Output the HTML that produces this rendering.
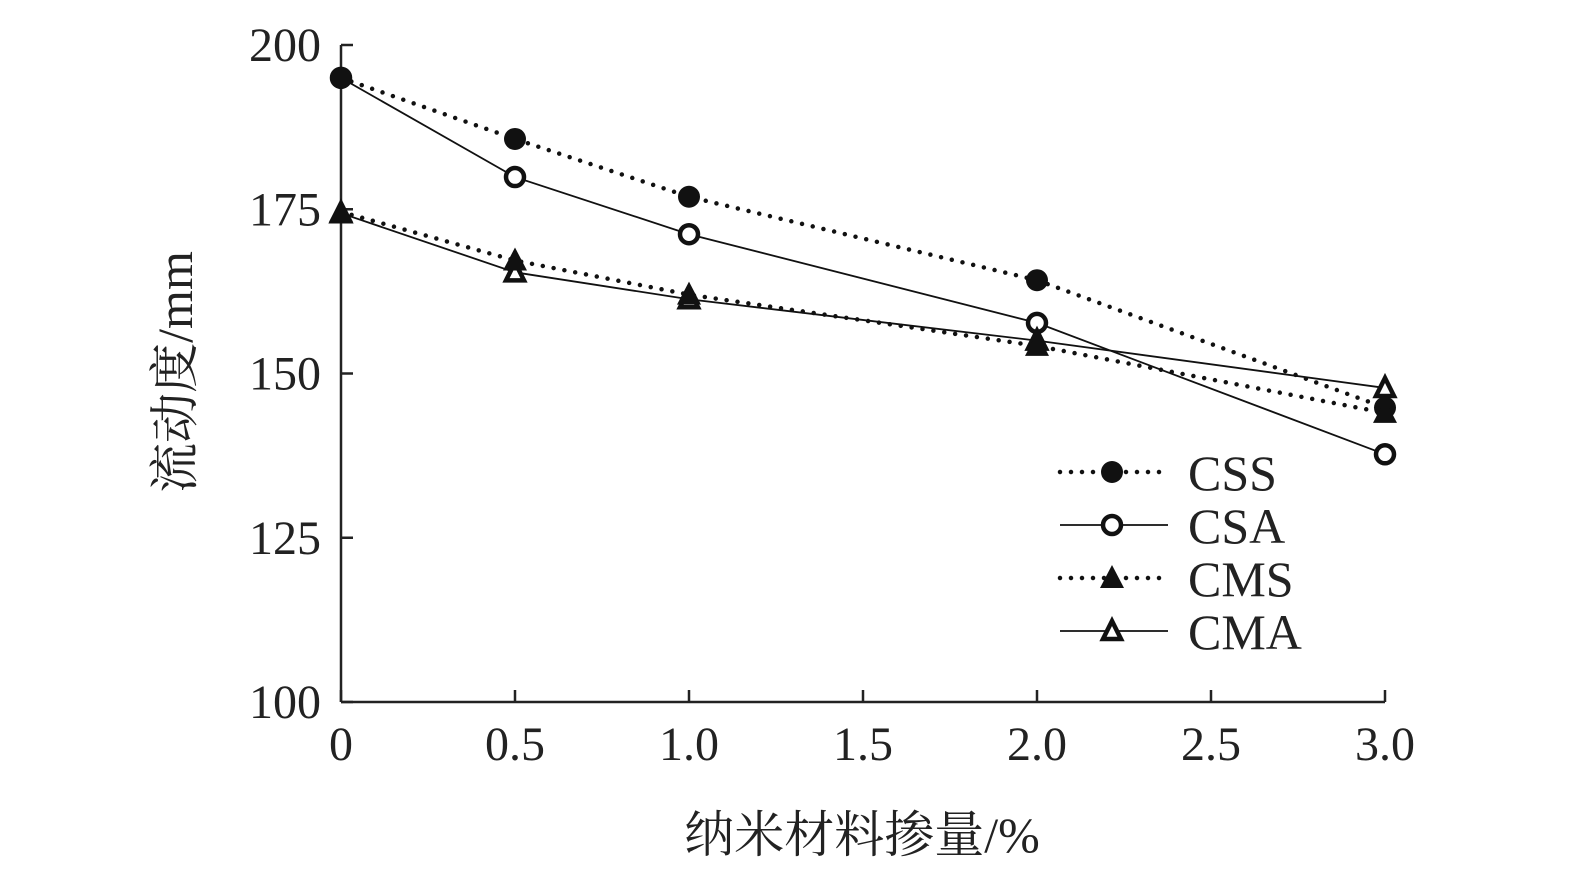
<!DOCTYPE html>
<html><head><meta charset="utf-8"><style>
body{margin:0;background:#fff;}
svg{display:block;font-family:"Liberation Serif","Noto Serif CJK SC",serif;}
</style></head><body>
<svg id="chart" width="1575" height="886" viewBox="0 0 1575 886" xmlns="http://www.w3.org/2000/svg">
<g id="axes"></g>
<g id="series"></g>
<g id="legend"></g>
<text transform="translate(192,372) rotate(-90)" text-anchor="middle" font-size="50" fill="#222" font-family="Liberation Serif, Noto Serif CJK SC, serif">流动度/mm</text>
<text x="862" y="852" text-anchor="middle" font-size="50" fill="#222" font-family="Liberation Serif, Noto Serif CJK SC, serif">纳米材料掺量/%</text>
</svg>
<script>
const xCats = [0, 0.5, 1.0, 2.0, 3.0];
const xTicks = [0, 0.5, 1.0, 1.5, 2.0, 2.5, 3.0];
const xTickLabels = ["0","0.5","1.0","1.5","2.0","2.5","3.0"];
const yTicks = [100, 125, 150, 175, 200];
const cssVals = [195, 185.7, 176.9, 164.2, 144.8];
const csaVals = [195, 179.9, 171.2, 157.7, 137.7];
const cmsVals = [174.6, 167.2, 162.0, 154.2, 144.0];
const cmaVals = [174.4, 165.4, 161.3, 155.0, 147.8];
const seriesNames = ["CSS","CSA","CMS","CMA"];

const NS="http://www.w3.org/2000/svg";
const X0=341,X1=1385,Y0=702,Y1=45;
const xs=v=>X0+(v-0)/3*(X1-X0);
const ys=v=>Y0-(v-100)/100*(Y0-Y1);
function mk(t,a,p){const e=document.createElementNS(NS,t);for(const k in a)e.setAttribute(k,a[k]);p.appendChild(e);return e;}
const axes=document.getElementById('axes');
let l=mk('line',{x1:X0,y1:Y1,x2:X0,y2:Y0,stroke:'#222','stroke-width':2.5},axes);


l=mk('line',{x1:X0,y1:Y0,x2:X1,y2:Y0,stroke:'#222','stroke-width':2.5},axes);


yTicks.forEach(v=>{
  const t=mk('line',{x1:X0,y1:ys(v),x2:X0+12,y2:ys(v),stroke:'#222','stroke-width':2.5},axes);
  
  
  const tx=mk('text',{x:X0-20,y:ys(v)+16,'text-anchor':'end','font-size':48,fill:'#222'},axes);
  tx.textContent=v;
  
  
});
xTicks.forEach((v,i)=>{
  const t=mk('line',{x1:xs(v),y1:Y0,x2:xs(v),y2:Y0-12,stroke:'#222','stroke-width':2.5},axes);
  
  
  const tx=mk('text',{x:xs(v),y:760,'text-anchor':'middle','font-size':48,fill:'#222'},axes);
  tx.textContent=xTickLabels[i];
  
  
});
function marker(type,x,y,p){
  let m;
  if(type==='fc') m=mk('circle',{cx:x,cy:y,r:11,fill:'#111'},p);
  else if(type==='oc') m=mk('circle',{cx:x,cy:y,r:9,fill:'#fff',stroke:'#111','stroke-width':4.5},p);
  else if(type==='ft') m=mk('polygon',{points:`${x},${y-13} ${x-12},${y+10} ${x+12},${y+10}`,fill:'#111'},p);
  else m=mk('polygon',{points:`${x},${y-10} ${x-9},${y+8} ${x+9},${y+8}`,fill:'#fff',stroke:'#111','stroke-width':4.5},p);
  return m;
}
const defs=[[cssVals,'fc',true],[csaVals,'oc',false],[cmsVals,'ft',true],[cmaVals,'ot',false]];
const order=[1,3,0,2];
const sg=document.getElementById('series');
order.forEach(i=>{
  const d=defs[i];
  const g=mk('g',{},sg);
  
  
  const pts=d[0].map((v,j)=>xs(xCats[j])+','+ys(v)).join(' ');
  const a={points:pts,fill:'none',stroke:'#111'};
  if(d[2]){a['stroke-width']=4.5;a['stroke-dasharray']='0 11';a['stroke-linecap']='round';}else a['stroke-width']=1.8;
  const pl=mk('polyline',a,g);
  
  
  d[0].forEach((v,j)=>{
    const m=marker(d[1],xs(xCats[j]),ys(v),g);
    
    
  });
});
const lg=document.getElementById('legend');
defs.forEach((d,i)=>{
  const y=472+i*53;
  const g=mk('g',{},lg);
  
  
  const a={x1:1060,y1:y,x2:1168,y2:y,stroke:'#111'};
  if(d[2]){a['stroke-width']=4.5;a['stroke-dasharray']='0 11';a['stroke-linecap']='round';}else a['stroke-width']=1.8;
  mk('line',a,g);
  marker(d[1],1112,y,g);
  const t=mk('text',{x:1188,y:y+18,'font-size':50,fill:'#222'},g);
  t.textContent=seriesNames[i];
});
</script>
</body></html>
